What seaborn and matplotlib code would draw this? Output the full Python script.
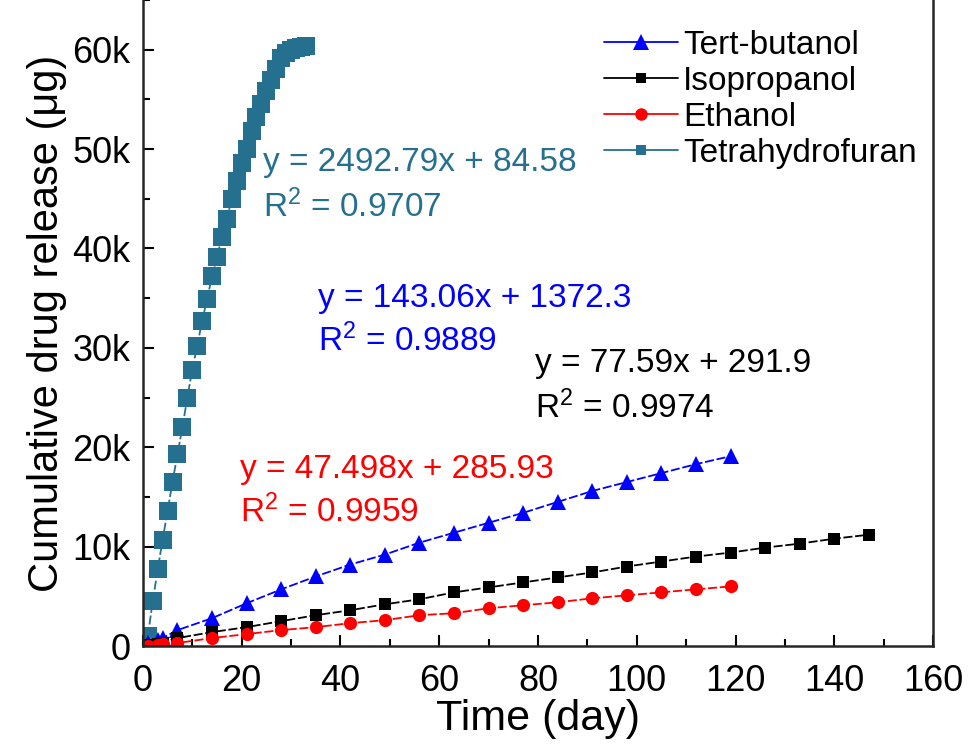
import matplotlib
matplotlib.use("Agg")
import matplotlib.pyplot as plt
from matplotlib.lines import Line2D
from matplotlib.ticker import MultipleLocator, FuncFormatter
import seaborn as sns

# release data (day, cumulative ug)
tb_days = [1, 3, 4, 7, 14, 21, 28, 35, 42, 49, 56, 63, 70, 77, 84, 91, 98, 105, 112, 119]
tb_vals = [300, 600, 800, 1600, 2800, 4300, 5700, 7000, 8200, 9200, 10400, 11400,
           12400, 13400, 14500, 15600, 16500, 17400, 18300, 19100]

iso_days = [1, 3, 4, 7, 14, 21, 28, 35, 42, 49, 56, 63, 70, 77, 84, 91, 98, 105,
            112, 119, 126, 133, 140, 147]
iso_vals = [100, 250, 350, 800, 1400, 1900, 2500, 3100, 3600, 4200, 4700, 5400, 5900,
            6400, 6900, 7400, 8000, 8500, 9000, 9400, 9900, 10300, 10800, 11200]

eth_days = [1, 3, 4, 7, 14, 21, 28, 35, 42, 49, 56, 63, 70, 77, 84, 91, 98, 105, 112, 119]
eth_vals = [50, 150, 200, 300, 800, 1200, 1600, 1900, 2300, 2600, 3100, 3300, 3800,
            4100, 4400, 4800, 5100, 5400, 5700, 6000]

thf_days = list(range(1, 34))
thf_vals = [1000, 4500, 7700, 10700, 13600, 16500, 19300, 22000, 25000, 27800, 30200,
            32700, 34900, 37200, 39100, 41200, 43000, 45000, 46800, 48600, 50000,
            51800, 53200, 54500, 55800, 57000, 58100, 59200, 59700, 60000, 60200,
            60300, 60400]

labels = ["Tert-butanol", "Isopropanol", "Ethanol", "Tetrahydrofuran"]
colors = ["#0000FF", "#000000", "#FF0000", "#26708F"]
fits = ["y = 143.06x + 1372.3", "y = 77.59x + 291.9", "y = 47.498x + 285.93", "y = 2492.79x + 84.58"]
r2s = ["R$^2$ = 0.9889", "R$^2$ = 0.9974", "R$^2$ = 0.9959", "R$^2$ = 0.9707"]

sns.set_style("ticks")
plt.rcParams["font.family"] = ["Liberation Sans", "DejaVu Sans"]
plt.rcParams.update({"text.color": "black", "axes.labelcolor": "black",
                     "xtick.color": "black", "ytick.color": "black",
                     "mathtext.fontset": "custom", "mathtext.rm": "Liberation Sans",
                     "mathtext.default": "regular"})

fig = plt.figure(figsize=(9.72, 7.49), dpi=100)
ax = fig.add_axes([0.147, 0.1375, 0.813, 0.8625])

dash = (0, (5, 1.5))
sns.lineplot(x=thf_days, y=thf_vals, ax=ax, color=colors[3], marker="s", markersize=13,
             markeredgewidth=0, linestyle=dash, lw=1.3)
sns.lineplot(x=tb_days, y=tb_vals, ax=ax, color=colors[0], marker="^", markersize=11,
             markeredgewidth=0, linestyle=dash, lw=1.3)
sns.lineplot(x=iso_days, y=iso_vals, ax=ax, color=colors[1], marker="s", markersize=8.5,
             markeredgewidth=0, linestyle=dash, lw=1.3)
sns.lineplot(x=eth_days, y=eth_vals, ax=ax, color=colors[2], marker="o", markersize=9.5,
             markeredgewidth=0, linestyle=dash, lw=1.3)

ax.set_xlim(0, 160)
ax.set_ylim(0, 65000)
ax.xaxis.set_major_locator(MultipleLocator(20))
ax.xaxis.set_minor_locator(MultipleLocator(10))
ax.yaxis.set_major_locator(MultipleLocator(10000))
ax.yaxis.set_minor_locator(MultipleLocator(5000))
ax.yaxis.set_major_formatter(FuncFormatter(lambda v, p: "0" if v == 0 else f"{int(v/1000)}k"))
ax.tick_params(which="major", direction="in", length=8, width=1.5, labelsize=26, pad=9)
ax.tick_params(axis="x", which="major", pad=13)
ax.tick_params(which="minor", direction="in", length=5, width=1.5)
for s in ["left", "bottom", "right"]:
    ax.spines[s].set_linewidth(1.8)
ax.spines["top"].set_visible(False)

ax.set_xlabel("Time (day)", fontsize=31, labelpad=0)
ax.set_ylabel("Cumulative drug release (μg)", fontsize=30, labelpad=4)

# fit annotations
txt_pos = [(35.4, 35000, 30700), (79.4, 28400, 24000), (19.6, 17800, 13500), (24.3, 48600, 44200)]
for (tx, y1, y2), f, r, c in zip(txt_pos, fits, r2s, colors):
    ax.text(tx, y1, f, color=c, fontsize=24, va="center")
    ax.text(tx, y2, r, color=c, fontsize=24, va="center")

handles = [
    Line2D([], [], color=colors[0], marker="^", markersize=11, markeredgewidth=0, lw=1.3),
    Line2D([], [], color=colors[1], marker="s", markersize=7, markeredgewidth=0, lw=1.3),
    Line2D([], [], color=colors[2], marker="o", markersize=9, markeredgewidth=0, lw=1.3),
    Line2D([], [], color=colors[3], marker="s", markersize=7, markeredgewidth=0, lw=1.3),
]
ax.legend(handles, labels, loc="upper right", frameon=False, fontsize=24,
          handlelength=2.2, handletextpad=0.15, labelspacing=0.15,
          bbox_to_anchor=(1.0, 0.98), borderaxespad=0.1)

fig.savefig("out.png", dpi=100)
